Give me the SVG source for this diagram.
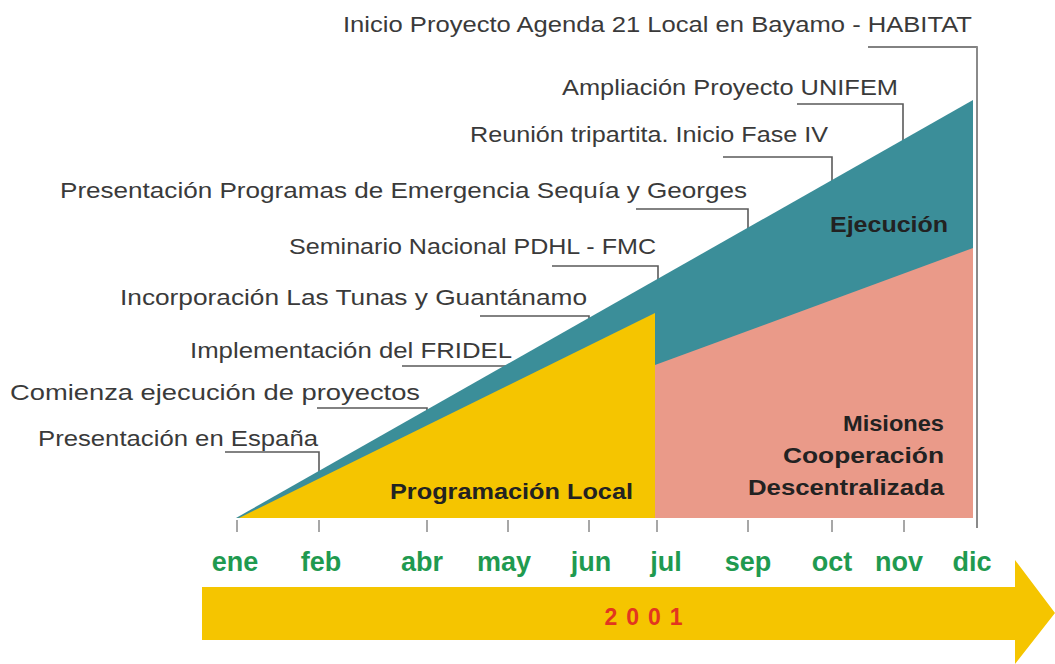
<svg xmlns="http://www.w3.org/2000/svg" width="1055" height="664" viewBox="0 0 1055 664">
<style>
.lbl{font-family:"Liberation Sans",Arial,sans-serif;font-size:22px;fill:#3a3a3a;text-anchor:end}
.lead{fill:none;stroke:#5a5a5a;stroke-width:1.6}
.tick{stroke:#8a8a8a;stroke-width:1.5}
.area{font-family:"Liberation Sans",Arial,sans-serif;font-weight:bold;font-size:22px;fill:#222;text-anchor:end}
.mon{font-family:"Liberation Sans",Arial,sans-serif;font-weight:bold;font-size:27px;fill:#1f9a50;text-anchor:middle}
</style>
<rect width="1055" height="664" fill="#ffffff"/>
<g id="connectors">
<polyline class="lead" points="868,47 977,47 977,528"/>
<polyline class="lead" points="797,104 903,104 903,518"/>
<polyline class="lead" points="723,157 832,157 832,518"/>
<polyline class="lead" points="636,209 748,209 748,518"/>
<polyline class="lead" points="552,266 658,266 658,518"/>
<polyline class="lead" points="480,316 589,316 589,518"/>
<polyline class="lead" points="402,366 508,366 508,518"/>
<polyline class="lead" points="317,408 427,408 427,518"/>
<polyline class="lead" points="225,452 319,452 319,518"/>
</g>
<g id="areas">
<polygon points="236,518 973,100 973,518" fill="#3b8e99"/>
<polygon points="655,365 973,248 973,518 655,518" fill="#ea9a89"/>
<polygon points="239,518 655,313 655,518" fill="#f5c500"/>
<line x1="977" y1="47" x2="977" y2="528" stroke="#8a8a8a" stroke-width="2"/>
</g>
<g id="ticks">
<line class="tick" x1="237" y1="520" x2="237" y2="532"/>
<line class="tick" x1="319" y1="520" x2="319" y2="532"/>
<line class="tick" x1="427" y1="520" x2="427" y2="532"/>
<line class="tick" x1="508" y1="520" x2="508" y2="532"/>
<line class="tick" x1="589" y1="520" x2="589" y2="532"/>
<line class="tick" x1="657" y1="520" x2="657" y2="532"/>
<line class="tick" x1="748" y1="520" x2="748" y2="532"/>
<line class="tick" x1="832" y1="520" x2="832" y2="532"/>
<line class="tick" x1="904" y1="520" x2="904" y2="532"/>
</g>
<g id="labels">
<text class="lbl" x="972" y="32" textLength="629" lengthAdjust="spacingAndGlyphs">Inicio Proyecto Agenda 21 Local en Bayamo - HABITAT</text>
<text class="lbl" x="898" y="95" textLength="336" lengthAdjust="spacingAndGlyphs">Ampliación Proyecto UNIFEM</text>
<text class="lbl" x="828" y="142" textLength="358" lengthAdjust="spacingAndGlyphs">Reunión tripartita. Inicio Fase IV</text>
<text class="lbl" x="747" y="198" textLength="687" lengthAdjust="spacingAndGlyphs">Presentación Programas de Emergencia Sequía y Georges</text>
<text class="lbl" x="656" y="254" textLength="367" lengthAdjust="spacingAndGlyphs">Seminario Nacional PDHL - FMC</text>
<text class="lbl" x="587" y="305" textLength="467" lengthAdjust="spacingAndGlyphs">Incorporación Las Tunas y Guantánamo</text>
<text class="lbl" x="512" y="358" textLength="322" lengthAdjust="spacingAndGlyphs">Implementación del FRIDEL</text>
<text class="lbl" x="420" y="400" textLength="410" lengthAdjust="spacingAndGlyphs">Comienza ejecución de proyectos</text>
<text class="lbl" x="318" y="446" textLength="280" lengthAdjust="spacingAndGlyphs">Presentación en España</text>
</g>
<g id="area-labels">
<text class="area" x="948" y="232" textLength="118" lengthAdjust="spacingAndGlyphs">Ejecución</text>
<text class="area" x="633" y="499" textLength="243" lengthAdjust="spacingAndGlyphs">Programación Local</text>
<text class="area" x="944" y="431" textLength="101" lengthAdjust="spacingAndGlyphs">Misiones</text>
<text class="area" x="944" y="463" textLength="161" lengthAdjust="spacingAndGlyphs">Cooperación</text>
<text class="area" x="944" y="495" textLength="196" lengthAdjust="spacingAndGlyphs">Descentralizada</text>
</g>
<g id="timeline">
<polygon points="202,587 1015,587 1015,560 1055,613 1015,664 1015,640 202,640" fill="#f5c500"/>
<text x="648" y="625" font-family="'Liberation Sans',Arial,sans-serif" font-weight="bold" font-size="23" fill="#e2361f" text-anchor="middle" letter-spacing="9">2001</text>
</g>
<g id="months">
<text class="mon" x="235" y="571">ene</text>
<text class="mon" x="321" y="571">feb</text>
<text class="mon" x="422" y="571">abr</text>
<text class="mon" x="504" y="571">may</text>
<text class="mon" x="591" y="571">jun</text>
<text class="mon" x="666" y="571">jul</text>
<text class="mon" x="748" y="571">sep</text>
<text class="mon" x="832" y="571">oct</text>
<text class="mon" x="899" y="571">nov</text>
<text class="mon" x="972" y="571">dic</text>
</g>
</svg>
